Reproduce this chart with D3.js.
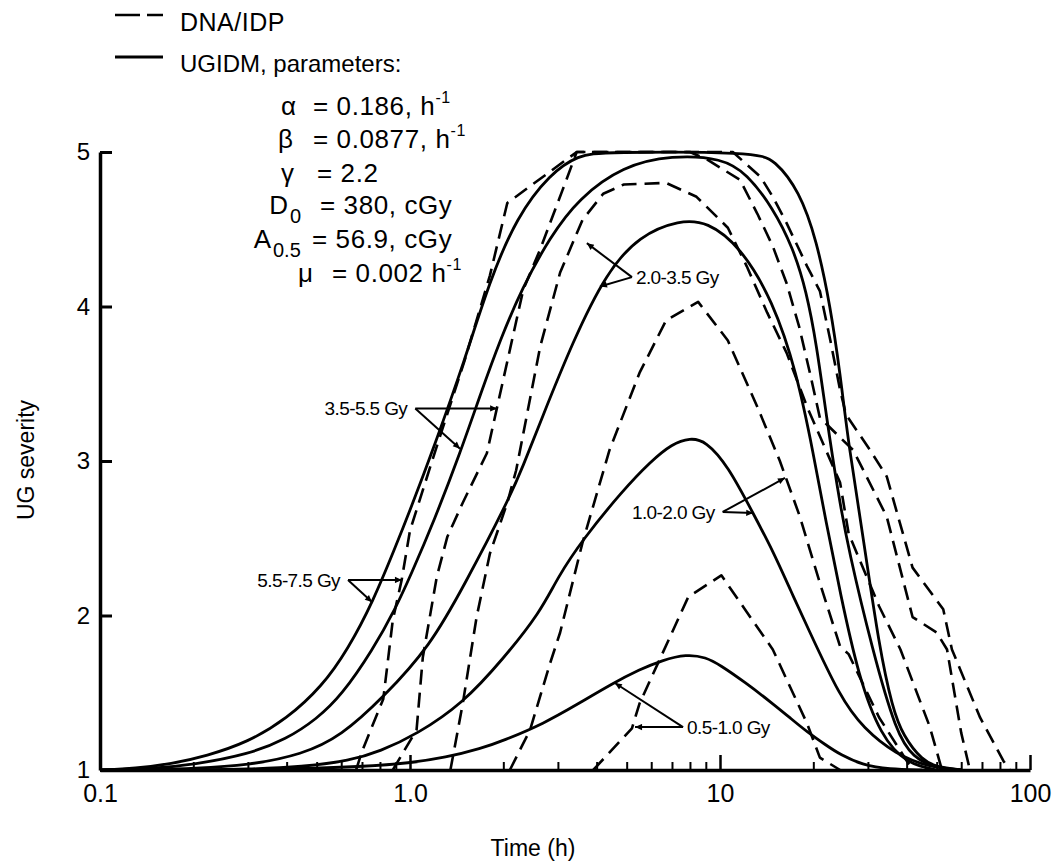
<!DOCTYPE html>
<html><head><meta charset="utf-8">
<script src="https://cdn.jsdelivr.net/npm/d3@7"></script>
<style>
body{margin:0;background:#fff}
svg{display:block}
text{font-family:"Liberation Sans",Arial,Helvetica,sans-serif;fill:#000}
</style>
</head><body>
<svg id="chart" width="1057" height="862"></svg>
<script>
// ---------- data ----------
const xTickValues = [0.1, 1, 10, 100];
const xTickLabels = ["0.1", "1.0", "10", "100"];
const xMinorTicks = [0.2,0.3,0.4,0.5,0.6,0.7,0.8,0.9,2,3,4,5,6,7,8,9,20,30,40,50,60,70,80,90];
const yTickValues = [1, 2, 3, 4, 5];

// UGIDM model (solid) curves: [time h, UG severity]
const ugidm_05_10 = [[0.2,1.0],[0.3,1.003],[0.5,1.012],[0.7,1.022],[1.0,1.045],[1.3,1.08],[1.7,1.14],[2.0,1.19],[2.7,1.30],[3.5,1.43],[4.5,1.56],[5.5,1.65],[6.5,1.71],[7.8,1.75],[9,1.73],[10,1.68],[12,1.57],[14.8,1.43],[17,1.33],[19,1.25],[22,1.16],[24.4,1.10],[29,1.03],[35,1.005],[45,1.0]];
const ugidm_10_20 = [[0.2,1.0],[0.3,1.005],[0.45,1.02],[0.64,1.06],[0.8,1.12],[1.05,1.23],[1.48,1.43],[2.0,1.72],[2.63,2.02],[3.0,2.25],[3.6,2.49],[4.86,2.81],[6,3.0],[7,3.11],[8,3.15],[9,3.13],[10.6,2.97],[12.8,2.66],[14.8,2.42],[17,2.15],[19.1,1.93],[24.4,1.47],[29,1.27],[37,1.10],[47,1.02],[60,1.0]];
const ugidm_20_35 = [[0.1,1.0],[0.15,1.004],[0.2,1.01],[0.3,1.03],[0.45,1.1],[0.6,1.22],[0.82,1.47],[1.16,1.80],[1.5,2.2],[2.06,2.73],[2.32,2.97],[2.63,3.25],[3.36,3.78],[4.3,4.22],[5.5,4.46],[7.4,4.56],[9.1,4.55],[11.6,4.39],[14.8,4.04],[17.7,3.57],[20,3.05],[22,2.6],[24.4,2.15],[28,1.6],[33,1.22],[40,1.04],[50,1.0]];
const ugidm_35_55 = [[0.1,1.0],[0.15,1.01],[0.2,1.035],[0.3,1.10],[0.4,1.2],[0.5,1.33],[0.6,1.48],[0.76,1.78],[0.9,2.05],[1.0,2.25],[1.2,2.62],[1.45,3.05],[1.7,3.45],[1.95,3.78],[2.3,4.12],[2.83,4.45],[3.5,4.7],[4.86,4.91],[7,4.98],[10.2,4.96],[12.2,4.86],[14.8,4.64],[17.2,4.38],[19,4.1],[20.5,3.75],[22,3.3],[24,2.8],[26,2.42],[31,1.78],[37,1.24],[42,1.08],[50,1.01],[60,1.0]];
const ugidm_55_75 = [[0.1,1.0],[0.13,1.01],[0.17,1.04],[0.22,1.09],[0.3,1.18],[0.4,1.33],[0.52,1.54],[0.63,1.78],[0.76,2.09],[0.9,2.45],[1.0,2.68],[1.2,3.1],[1.5,3.65],[1.81,4.17],[2.21,4.58],[2.83,4.86],[3.5,4.98],[4.2,5.0],[13,5.0],[15,4.95],[18,4.75],[20.5,4.43],[22.7,4.0],[24.4,3.57],[26,3.1],[29,2.5],[32.6,1.8],[36,1.4],[39,1.22],[45,1.06],[50,1.02],[60,1.0]];

// DNA/IDP (dashed) curves
const dna_05_10 = [[3.9,1.0],[5.2,1.27],[5.5,1.43],[7.9,2.12],[10.1,2.26],[14.8,1.78],[19.1,1.30],[21,1.08],[24.4,1.0]];
const dna_10_20 = [[2.1,1.0],[2.44,1.26],[2.83,1.69],[3.05,1.89],[3.6,2.47],[4.4,3.07],[5.5,3.57],[6.7,3.91],[8.5,4.03],[10.6,3.78],[13.2,3.35],[15.6,3.0],[18.1,2.64],[21,2.21],[24.4,1.8],[26,1.75],[32.6,1.34],[41.8,1.0]];
const dna_20_35 = [[1.35,1.0],[1.48,1.43],[1.64,1.99],[1.81,2.40],[2.06,2.73],[2.2,2.94],[2.63,3.74],[3.05,4.22],[3.6,4.56],[4.2,4.73],[4.9,4.79],[6.7,4.8],[8.4,4.71],[10.6,4.51],[12.2,4.26],[14.2,3.96],[16.4,3.70],[19.1,3.35],[24.4,2.86],[26,2.53],[32.6,2.06],[38.2,1.78],[47.5,1.28],[52,1.0]];
const dna_35_55 = [[0.88,1.0],[1.05,1.26],[1.1,1.73],[1.22,2.25],[1.32,2.51],[1.48,2.73],[1.77,3.05],[2.32,4.11],[2.63,4.37],[2.83,4.54],[3.1,4.75],[3.45,5.0],[8,5.0],[9.1,4.95],[11.6,4.82],[13.2,4.6],[14.8,4.39],[16.4,4.15],[18,3.87],[19.5,3.57],[21,3.28],[26.9,3.07],[34.5,2.64],[41.8,1.99],[50,1.89],[54,1.78],[60,1.24],[64,1.0]];
const dna_55_75 = [[0.67,1.0],[0.7,1.12],[0.82,1.46],[0.88,1.97],[0.94,2.23],[1.0,2.55],[1.2,3.05],[1.5,3.65],[1.81,4.2],[2.06,4.67],[3.45,5.0],[11,5.0],[13.5,4.84],[14.8,4.71],[16.4,4.54],[19.1,4.26],[21,4.1],[22.7,3.78],[24.4,3.46],[25.5,3.3],[30.5,3.07],[34.5,2.9],[41.8,2.31],[52.5,2.04],[56,1.78],[69,1.34],[82,1.06],[86,1.0]];

const solidSeries = [ugidm_05_10, ugidm_10_20, ugidm_20_35, ugidm_35_55, ugidm_55_75];
const dashedSeries = [dna_05_10, dna_10_20, dna_20_35, dna_35_55, dna_55_75];

// dose-range annotations: label, apex [t,v], arrow targets [t,v]
const doseLabels = ["0.5-1.0 Gy", "1.0-2.0 Gy", "2.0-3.5 Gy", "3.5-5.5 Gy", "5.5-7.5 Gy"];
const doseApex = [[7.6,1.278],[10.2,2.67],[5.2,4.19],[1.04,3.34],[0.631,2.23]];
const doseTargets = [
  [[4.58,1.563],[5.32,1.278]],
  [[16.2,2.89],[12.8,2.663]],
  [[3.72,4.41],[4.10,4.13]],
  [[1.91,3.34],[1.45,3.08]],
  [[0.942,2.23],[0.754,2.087]]
];
const doseSide = ["right","left","right","left","left"];

// legend and parameter text
const legendLabels = ["DNA/IDP", "UGIDM, parameters:"];
const paramSymbols = ["α", "β", "γ", "D", "A", "μ"];
const paramSubs = ["", "", "", "0", "0.5", ""];
const paramValues = ["= 0.186, h", "= 0.0877, h", "= 2.2", "= 380, cGy", "= 56.9, cGy", "= 0.002 h"];
const paramSups = ["-1", "-1", "", "", "", "-1"];

// ---------- chart ----------
const svg = d3.select("#chart");
const x = d3.scaleLog().domain([0.1, 100]).range([100, 1030]);
const y = d3.scaleLinear().domain([1, 5]).range([770, 152]);

const defs = svg.append("defs");
defs.append("marker").attr("id","arr").attr("viewBox","0 0 10 10")
  .attr("refX",10).attr("refY",5).attr("markerWidth",11).attr("markerHeight",7)
  .attr("markerUnits","userSpaceOnUse").attr("orient","auto")
  .append("path").attr("d","M0,0.5 L10,5 L0,9.5 Z").attr("fill","#000");

// x axis minor ticks
const gxMinor = svg.append("g").attr("transform","translate(0,770)")
  .call(d3.axisBottom(x).tickValues(xMinorTicks).tickSize(-8).tickSizeOuter(0).tickFormat(""));
gxMinor.select(".domain").attr("stroke-width",3.5);
gxMinor.selectAll(".tick line").attr("stroke-width",2);

// x axis major ticks
const gxMajor = svg.append("g").attr("transform","translate(0,770)")
  .call(d3.axisBottom(x).tickValues(xTickValues).tickSize(-15).tickSizeOuter(0).tickPadding(14)
    .tickFormat((d,i)=>xTickLabels[i]));
gxMajor.select(".domain").remove();
gxMajor.selectAll(".tick line").attr("stroke-width",2.5);
gxMajor.selectAll(".tick text").attr("font-size",25).attr("font-family",null);

// y axis
const gy = svg.append("g").attr("transform","translate(100,0)")
  .call(d3.axisLeft(y).tickValues(yTickValues).tickSize(-12).tickSizeOuter(0).tickPadding(10)
    .tickFormat(d3.format("d")));
gy.select(".domain").attr("stroke-width",3.5);
gy.selectAll(".tick line").attr("stroke-width",3);
gy.selectAll(".tick text").attr("font-size",24).attr("font-family",null);

// axis titles
svg.append("text").attr("x",533).attr("y",856).attr("text-anchor","middle")
  .attr("font-size",23).text("Time (h)");
svg.append("text").attr("transform","translate(34,460) rotate(-90)").attr("text-anchor","middle")
  .attr("font-size",23).text("UG severity");

// curves
const lineSmooth = d3.line().x(d=>x(d[0])).y(d=>y(d[1])).curve(d3.curveBasis);
const lineStraight = d3.line().x(d=>x(d[0])).y(d=>y(d[1])).curve(d3.curveLinear);

svg.append("g").selectAll("path").data(dashedSeries).join("path")
  .attr("d", lineStraight).attr("fill","none").attr("stroke","#000")
  .attr("stroke-width",2.6).attr("stroke-dasharray","15,8").attr("stroke-linejoin","round");
svg.append("g").selectAll("path").data(solidSeries).join("path")
  .attr("d", lineSmooth).attr("fill","none").attr("stroke","#000")
  .attr("stroke-width",2.8).attr("stroke-linejoin","round");

// annotations
const ann = svg.append("g");
doseLabels.forEach((lab,i)=>{
  const ax = x(doseApex[i][0]), ay = y(doseApex[i][1]);
  doseTargets[i].forEach(tg=>{
    ann.append("line").attr("x1",ax).attr("y1",ay).attr("x2",x(tg[0])).attr("y2",y(tg[1]))
      .attr("stroke","#000").attr("stroke-width",2).attr("marker-end","url(#arr)");
  });
  const right = doseSide[i]==="right";
  ann.append("text").attr("x", right ? ax+4 : ax-8).attr("y", ay+7)
    .attr("text-anchor", right ? "start" : "end")
    .attr("font-size",19).attr("letter-spacing",-0.6).text(lab);
});

// legend
const leg = svg.append("g");
leg.append("line").attr("x1",115).attr("x2",163).attr("y1",15).attr("y2",15)
  .attr("stroke","#000").attr("stroke-width",2.6).attr("stroke-dasharray","25,7");
leg.append("line").attr("x1",115).attr("x2",163).attr("y1",57).attr("y2",57)
  .attr("stroke","#000").attr("stroke-width",2.8);
leg.append("text").attr("x",180).attr("y",31).attr("font-size",25).attr("letter-spacing",0.5).text(legendLabels[0]);
leg.append("text").attr("x",180).attr("y",72).attr("font-size",24).text(legendLabels[1]);

// parameter block
const symEnd = [296, 293, 294, 288, 271, 313];
const valStart = [313, 313, 317, 320, 312, 332];
const baseY = [115, 148, 182, 214, 248, 282];
paramSymbols.forEach((s,i)=>{
  const t = leg.append("text").attr("x",symEnd[i]).attr("y",baseY[i]).attr("text-anchor","end")
    .attr("font-size",26);
  t.text(s);
  if (paramSubs[i]) {
    leg.append("text").attr("x",symEnd[i]+2).attr("y",baseY[i]+9)
      .attr("font-size",20).text(paramSubs[i]);
  }
  const v = leg.append("text").attr("x",valStart[i]).attr("y",baseY[i]).attr("font-size",26)
    .attr("letter-spacing",0.6);
  v.append("tspan").text(paramValues[i]);
  if (paramSups[i]) v.append("tspan").attr("dy",-12).attr("font-size",16).text(paramSups[i]);
});
</script>
</body></html>
